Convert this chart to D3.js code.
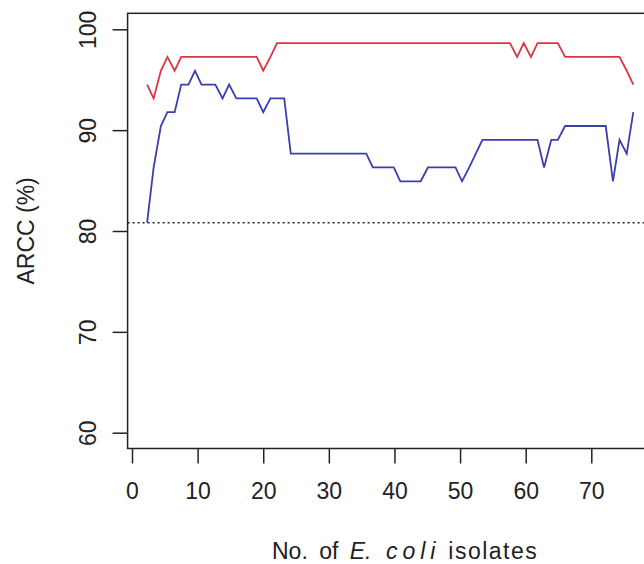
<!DOCTYPE html>
<html>
<head>
<meta charset="utf-8">
<script src="https://cdn.jsdelivr.net/npm/d3@7"></script>
<style>
  body { margin: 0; background: #fff; }
  svg { display: block; font-family: "Liberation Sans", Arial, sans-serif; }
</style>
</head>
<body>
<script>
// x positions of the 72 points, in axis units
var isolates = [
  2.3, 3.3, 4.4, 5.4, 6.5, 7.5, 8.6, 9.6, 10.6, 11.7, 12.7, 13.8,
  14.8, 15.9, 16.9, 17.9, 19.0, 20.0, 21.1, 22.1, 23.2, 24.2, 25.3, 26.3,
  27.3, 28.4, 29.4, 30.5, 31.5, 32.6, 33.6, 34.7, 35.7, 36.7, 37.8, 38.8,
  39.9, 40.9, 42.0, 43.0, 44.0, 45.1, 46.1, 47.2, 48.2, 49.3, 50.3, 51.4,
  52.4, 53.4, 54.5, 55.5, 56.6, 57.6, 58.7, 59.7, 60.8, 61.8, 62.8, 63.9,
  64.9, 66.0, 67.0, 68.1, 69.1, 70.2, 71.2, 72.2, 73.3, 74.3, 75.4, 76.4
];

// red series (%)
var redValues = [
  94.52, 93.15, 95.89, 97.26, 95.89, 97.26, 97.26, 97.26, 97.26, 97.26, 97.26, 97.26,
  97.26, 97.26, 97.26, 97.26, 97.26, 95.89, 97.26, 98.63, 98.63, 98.63, 98.63, 98.63,
  98.63, 98.63, 98.63, 98.63, 98.63, 98.63, 98.63, 98.63, 98.63, 98.63, 98.63, 98.63,
  98.63, 98.63, 98.63, 98.63, 98.63, 98.63, 98.63, 98.63, 98.63, 98.63, 98.63, 98.63,
  98.63, 98.63, 98.63, 98.63, 98.63, 98.63, 97.26, 98.63, 97.26, 98.63, 98.63, 98.63,
  98.63, 97.26, 97.26, 97.26, 97.26, 97.26, 97.26, 97.26, 97.26, 97.26, 95.89, 94.52
];

// blue series (%)
var blueValues = [
  80.82, 86.30, 90.41, 91.78, 91.78, 94.52, 94.52, 95.89, 94.52, 94.52, 94.52, 93.15,
  94.52, 93.15, 93.15, 93.15, 93.15, 91.78, 93.15, 93.15, 93.15, 87.67, 87.67, 87.67,
  87.67, 87.67, 87.67, 87.67, 87.67, 87.67, 87.67, 87.67, 87.67, 86.30, 86.30, 86.30,
  86.30, 84.93, 84.93, 84.93, 84.93, 86.30, 86.30, 86.30, 86.30, 86.30, 84.93, 86.30,
  87.67, 89.04, 89.04, 89.04, 89.04, 89.04, 89.04, 89.04, 89.04, 89.04, 86.30, 89.04,
  89.04, 90.41, 90.41, 90.41, 90.41, 90.41, 90.41, 90.41, 84.93, 89.04, 87.67, 91.78
];

var reference = 80.82;   // dotted line
var xTicks = [0, 10, 20, 30, 40, 50, 60, 70];
var yTicks = [60, 70, 80, 90, 100];

var width = 644, height = 564;
var box = { left: 127.6, top: 13.3, right: 700, bottom: 448.5 };

var svg = d3.select("body").append("svg")
    .attr("width", width)
    .attr("height", height);

svg.append("rect")
    .attr("width", width).attr("height", height)
    .attr("fill", "#fff");

var x = d3.scaleLinear().domain([0, 70]).range([132, 591.3]);
var y = d3.scaleLinear().domain([60, 100]).range([432.7, 29.3]);

// dotted reference line
svg.append("line")
    .attr("x1", box.left).attr("x2", box.right)
    .attr("y1", y(reference)).attr("y2", y(reference))
    .attr("stroke", "#222")
    .attr("stroke-width", 1.6)
    .attr("stroke-dasharray", "2,3");

var line = d3.line()
    .x(function(d, i) { return x(isolates[i]); })
    .y(function(d) { return y(d); });

svg.append("path")
    .attr("d", line(redValues))
    .attr("fill", "none")
    .attr("stroke", "#dc3545")
    .attr("stroke-width", 1.8);

svg.append("path")
    .attr("d", line(blueValues))
    .attr("fill", "none")
    .attr("stroke", "#3b3fae")
    .attr("stroke-width", 1.8);

// box
svg.append("rect")
    .attr("x", box.left).attr("y", box.top)
    .attr("width", box.right - box.left)
    .attr("height", box.bottom - box.top)
    .attr("fill", "none")
    .attr("stroke", "#222")
    .attr("stroke-width", 1.5);

// left axis
var yAxis = svg.append("g")
    .attr("transform", "translate(" + box.left + ",0)")
    .call(d3.axisLeft(y).tickValues(yTicks).tickSize(15).tickPadding(0));
yAxis.select(".domain").remove();
yAxis.selectAll(".tick line").attr("stroke", "#222").attr("stroke-width", 1.5);
yAxis.selectAll(".tick text")
    .attr("x", 0).attr("dy", null)
    .attr("transform", "translate(-40,0) rotate(-90)")
    .attr("text-anchor", "middle")
    .attr("dominant-baseline", "central")
    .attr("font-size", 23)
    .attr("font-family", "Liberation Sans, Arial, sans-serif")
    .attr("fill", "#222");

// bottom axis
var xAxis = svg.append("g")
    .attr("transform", "translate(0," + box.bottom + ")")
    .call(d3.axisBottom(x).tickValues(xTicks).tickSize(15).tickPadding(0));
xAxis.select(".domain").remove();
xAxis.selectAll(".tick line").attr("stroke", "#222").attr("stroke-width", 1.5);
xAxis.selectAll(".tick text")
    .attr("y", 50).attr("dy", null)
    .attr("font-size", 23)
    .attr("font-family", "Liberation Sans, Arial, sans-serif")
    .attr("fill", "#222");

// axis titles
svg.append("text")
    .attr("transform", "translate(26," + ((box.top + box.bottom) / 2) + ") rotate(-90)")
    .attr("text-anchor", "middle")
    .attr("dominant-baseline", "central")
    .attr("font-size", 23)
    .attr("fill", "#222")
    .text("ARCC (%)");

var xt = svg.append("text")
    .attr("x", 272).attr("y", 559)
    .attr("font-size", 23)
    .attr("fill", "#222");
xt.append("tspan").attr("word-spacing", 5).text("No. of ");
xt.append("tspan").attr("font-style", "italic").attr("word-spacing", 8).text("E. ");
xt.append("tspan").attr("font-style", "italic").attr("letter-spacing", 5).text("coli");
xt.append("tspan").attr("letter-spacing", 1.5).text(" isolates");
</script>
</body>
</html>
